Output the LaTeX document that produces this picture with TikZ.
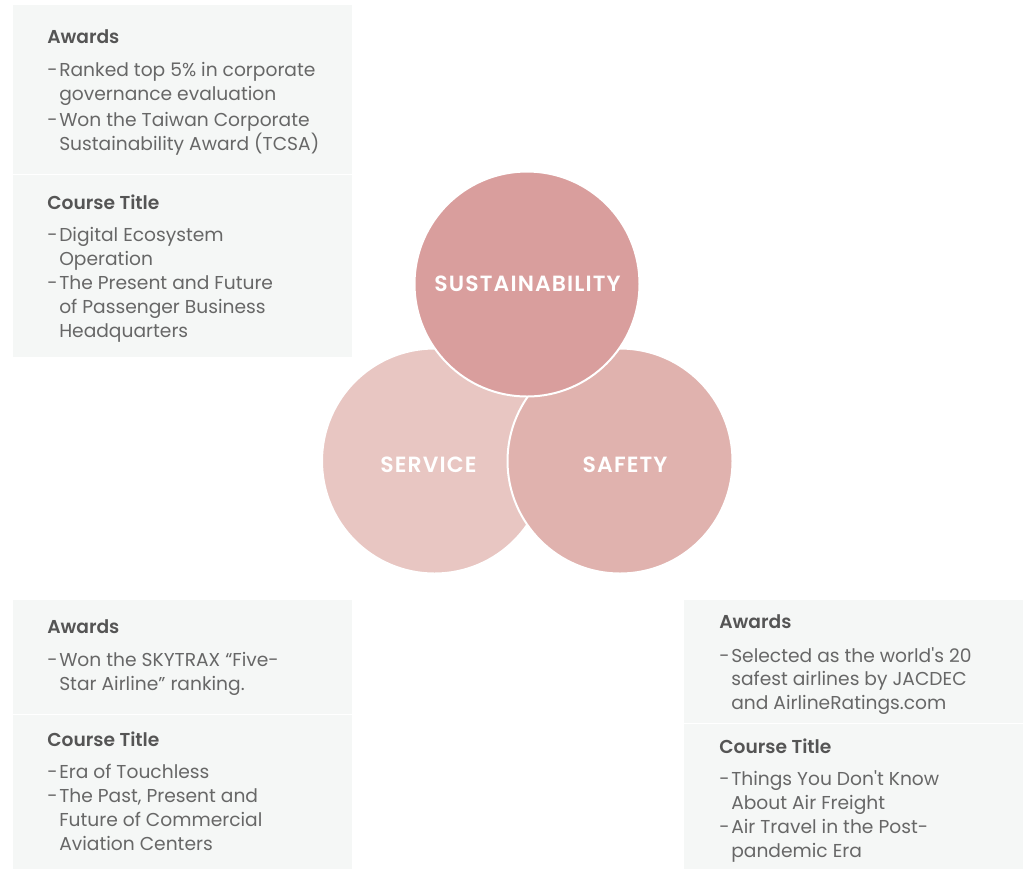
\documentclass[tikz,border=0pt]{standalone}
\usepackage{fontspec}
\setmainfont{Poppins}
\newfontfamily\headfont{Poppins SemiBold}
\newfontfamily\ringfont[LetterSpace=5]{Poppins SemiBold}
\definecolor{panel}{HTML}{F5F7F6}
\definecolor{headgrey}{HTML}{555555}
\definecolor{bodygrey}{HTML}{676767}
\definecolor{sustaincol}{HTML}{D99E9D}
\definecolor{servicecol}{HTML}{E8C6C2}
\definecolor{safetycol}{HTML}{E0B2AE}
\tikzset{
  panelbox/.style={fill=panel, draw=none},
  headline/.style={anchor=base west, inner sep=0pt, text=headgrey,
    font=\headfont\fontsize{14}{16}\selectfont},
  bodyline/.style={anchor=base west, inner sep=0pt, text=bodygrey,
    font=\fontsize{14}{16}\selectfont},
  ring/.style={circle, draw=white, line width=1.5pt, minimum size=168.75pt, inner sep=0pt},
  ringlabel/.style={anchor=base, inner sep=0pt, text=white,
    font=\ringfont\fontsize{16.5}{18}\selectfont},
}
\begin{document}
\begin{tikzpicture}[x=0.75pt, y=-0.75pt]
\useasboundingbox (0,0) rectangle (1023,869);

% ---- panels ----
\fill[panelbox] (13,5) rectangle (352,173.5);
\fill[panelbox] (13,175) rectangle (352,357);
\fill[panelbox] (13,600) rectangle (352,713.5);
\fill[panelbox] (13,715) rectangle (352,869);
\fill[panelbox] (684,600) rectangle (1023,722.5);
\fill[panelbox] (684,724) rectangle (1023,869);

% ---- circles ----
\node[ring, fill=servicecol] (service) at (434.5,461) {};
\node[ring, fill=safetycol] (safety) at (620,461) {};
\node[ring, fill=sustaincol] (sustain) at (527,284) {};
\node[ringlabel] (sustainlbl) at (527.5,291) {SUSTAINABILITY};
\node[ringlabel] (servicelbl) at (428.5,472.5) {SERVICE};
\node[ringlabel] (safetylbl) at (625,472.5) {SAFETY};

% ---- top-left panel: sustainability ----
\node[headline] (tlA) at (47,43.5) {Awards};
\node[bodyline] (tlA1d) at (47,76) {-};
\node[bodyline] (tlA1a) at (59,76) {Ranked top 5\% in corporate};
\node[bodyline] (tlA1b) at (59,100) {governance evaluation};
\node[bodyline] (tlA2d) at (47,126) {-};
\node[bodyline] (tlA2a) at (59,126) {Won the Taiwan Corporate};
\node[bodyline] (tlA2b) at (59,150) {Sustainability Award (TCSA)};
\node[headline] (tlC) at (47,209) {Course Title};
\node[bodyline] (tlC1d) at (47,241) {-};
\node[bodyline] (tlC1a) at (59,241) {Digital Ecosystem};
\node[bodyline] (tlC1b) at (59,265) {Operation};
\node[bodyline] (tlC2d) at (47,289) {-};
\node[bodyline] (tlC2a) at (59,289) {The Present and Future};
\node[bodyline] (tlC2b) at (59,313) {of Passenger Business};
\node[bodyline] (tlC2c) at (59,337) {Headquarters};

% ---- bottom-left panel: service ----
\node[headline] (blA) at (47,633.5) {Awards};
\node[bodyline] (blA1d) at (47,666) {-};
\node[bodyline] (blA1a) at (59,666) {Won the SKYTRAX “Five-};
\node[bodyline] (blA1b) at (59,690) {Star Airline” ranking.};
\node[headline] (blC) at (47,746) {Course Title};
\node[bodyline] (blC1d) at (47,778) {-};
\node[bodyline] (blC1a) at (59,778) {Era of Touchless};
\node[bodyline] (blC2d) at (47,802) {-};
\node[bodyline] (blC2a) at (59,802) {The Past, Present and};
\node[bodyline] (blC2b) at (59,826) {Future of Commercial};
\node[bodyline] (blC2c) at (59,850) {Aviation Centers};

% ---- bottom-right panel: safety ----
\node[headline] (brA) at (719,628.5) {Awards};
\node[bodyline] (brA1d) at (719,662) {-};
\node[bodyline] (brA1a) at (731,662) {Selected as the world\textquotesingle s 20};
\node[bodyline] (brA1b) at (731,685.5) {safest airlines by JACDEC};
\node[bodyline] (brA1c) at (731,709.5) {and AirlineRatings.com};
\node[headline] (brC) at (719,753.5) {Course Title};
\node[bodyline] (brC1d) at (719,785) {-};
\node[bodyline] (brC1a) at (731,785) {Things You Don\textquotesingle t Know};
\node[bodyline] (brC1b) at (731,809) {About Air Freight};
\node[bodyline] (brC2d) at (719,833) {-};
\node[bodyline] (brC2a) at (731,833) {Air Travel in the Post-};
\node[bodyline] (brC2b) at (731,857) {pandemic Era};
\end{tikzpicture}
\end{document}
